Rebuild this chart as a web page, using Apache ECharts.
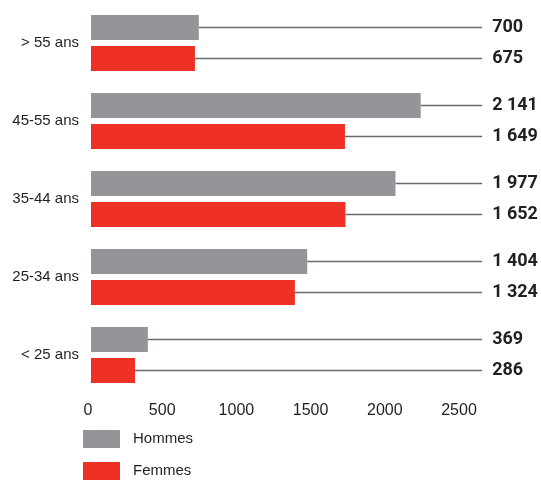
<!DOCTYPE html>
<html>
<head>
<meta charset="utf-8">
<script src="https://cdn.jsdelivr.net/npm/echarts@6/dist/echarts.min.js"></script>
<style>
  html, body { margin: 0; padding: 0; background: #ffffff; }
  #chart { width: 541px; height: 482px; }
</style>
</head>
<body>
<div id="chart"></div>
<script>
// Age bands, top to bottom
const categories = ['> 55 ans', '45-55 ans', '35-44 ans', '25-34 ans', '< 25 ans'];
// Headcount per age band
const hommes = [700, 2141, 1977, 1404, 369];
const femmes = [675, 1649, 1652, 1324, 286];
const seriesNames = ['Hommes', 'Femmes'];
const xTicks = [0, 500, 1000, 1500, 2000, 2500];

const GREY = '#939598';
const RED = '#EE3124';
const BAR_W = 25;
const BAR_GAP = 6;
const LEADER_END = 2540;   // where leader lines stop, in axis units

function fmt(v) {
  return String(v).replace(/\B(?=(\d{3})+(?!\d))/g, ' ');
}

// leader line from the bar end to the right margin, plus the value
function leaderSeries(values, side) {
  return {
    type: 'custom',
    xAxisIndex: 0,
    yAxisIndex: 0,
    silent: true,
    z: 1,
    clip: false,
    data: values.map((v, i) => [v, i]),
    renderItem: function (params, api) {
      const start = api.coord([api.value(0), api.value(1)]);
      const end = api.coord([LEADER_END, api.value(1)]);
      const y = start[1] + side * (BAR_W + BAR_GAP) / 2;
      return {
        type: 'group',
        children: [
          {
            type: 'line',
            shape: { x1: start[0], y1: y, x2: end[0], y2: y },
            style: { stroke: '#6a6a6d', lineWidth: 1.6 }
          },
          {
            type: 'text',
            x: end[0] + 10,
            y: y,
            style: {
              text: fmt(api.value(0)),
              fill: '#231f20',
              font: 'bold 18px Roboto',
              textAlign: 'left',
              textVerticalAlign: 'middle'
            }
          }
        ]
      };
    }
  };
}

const chart = echarts.init(document.getElementById('chart'), null, { renderer: 'canvas' });

chart.setOption({
  animation: false,
  backgroundColor: '#ffffff',
  grid: [
    { left: 91, width: 385, top: 4, height: 390 },
    { left: 88, width: 371, top: 4, height: 390 }
  ],
  legend: {
    data: seriesNames,
    orient: 'vertical',
    left: 83,
    top: 430,
    padding: 0,
    icon: 'rect',
    itemWidth: 37,
    itemHeight: 18,
    itemGap: 14,
    textStyle: {
      fontFamily: 'Liberation Sans',
      fontSize: 15,
      color: '#231f20',
      padding: [0, 0, 0, 8]
    }
  },
  xAxis: [
    {
      type: 'value', gridIndex: 0, min: 0, max: 2500, interval: 500,
      show: false
    },
    {
      type: 'value', gridIndex: 1, min: 0, max: 2500, interval: 500,
      axisLine: { show: false },
      axisTick: { show: false },
      splitLine: { show: false },
      axisLabel: {
        margin: 9,
        fontFamily: 'Liberation Sans',
        fontSize: 16,
        color: '#231f20',
        customValues: xTicks,
        formatter: function (v) { return String(v); }
      }
    }
  ],
  yAxis: [
    {
      type: 'category', gridIndex: 0, data: categories, inverse: true,
      axisLine: { show: false },
      axisTick: { show: false },
      splitLine: { show: false },
      axisLabel: {
        margin: 12,
        fontFamily: 'Liberation Sans',
        fontSize: 15,
        color: '#231f20'
      }
    },
    {
      type: 'category', gridIndex: 1, data: categories, inverse: true,
      show: false
    }
  ],
  series: [
    {
      name: 'Hommes', type: 'bar', xAxisIndex: 0, yAxisIndex: 0,
      data: hommes, barWidth: BAR_W, barGap: (BAR_GAP / BAR_W * 100) + '%',
      itemStyle: { color: GREY }, z: 2
    },
    {
      name: 'Femmes', type: 'bar', xAxisIndex: 0, yAxisIndex: 0,
      data: femmes, barWidth: BAR_W, barGap: (BAR_GAP / BAR_W * 100) + '%',
      itemStyle: { color: RED }, z: 2
    },
    leaderSeries(hommes, -1),
    leaderSeries(femmes, 1)
  ]
});
</script>
</body>
</html>
